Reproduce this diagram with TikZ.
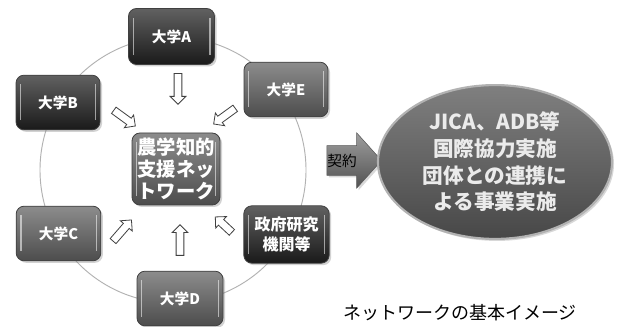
\documentclass[tikz,border=0pt]{standalone}
\usepackage{fontspec}
\setmainfont{Noto Sans CJK JP}
\usetikzlibrary{shapes.arrows,shapes.geometric,shadows}
\tikzset{
  box/.style={rounded corners=6pt, draw=black!75, line width=0.6pt, text=white,
    align=center, inner sep=1pt,
    font=\bfseries\fontsize{11}{14}\selectfont,
    drop shadow={opacity=0.35, shadow xshift=1.5pt, shadow yshift=-1.5pt},
    path picture={
      \draw[white, opacity=0.55, line width=1pt]
        ([xshift=3.5pt,yshift=-7pt]path picture bounding box.north west) --
        ([xshift=3.5pt,yshift=7pt]path picture bounding box.south west);
      \draw[white, opacity=0.55, line width=1pt]
        ([xshift=-3.5pt,yshift=-7pt]path picture bounding box.north east) --
        ([xshift=-3.5pt,yshift=7pt]path picture bounding box.south east);
    }},
  darkbox/.style={box, top color=black!62, bottom color=black!90},
  midbox/.style={box, top color=black!45, bottom color=black!70},
  hollow/.style={single arrow, draw=black!75, fill=white, line width=0.6pt,
    inner xsep=0pt, inner ysep=2.6pt, single arrow head extend=3pt,
    single arrow tip angle=90},
}
\begin{document}
\begin{tikzpicture}[x=0.75pt, y=-0.75pt]
\useasboundingbox[fill=white] (0,0) rectangle (620,327);

% ring
\node[circle, draw=black!30, line width=0.7pt, minimum size=199.5pt, inner sep=0pt] (ring) at (173,170) {};

% boxes
\node[darkbox, minimum width=64.5pt, minimum height=42pt] (A) at (171.5,36.5) {大学A};
\node[darkbox, minimum width=63pt, minimum height=41pt] (B) at (58,102.5) {大学B};
\node[midbox, minimum width=63pt, minimum height=41pt] (E) at (286,89.5) {大学E};
\node[midbox, minimum width=63.5pt, minimum height=41pt] (C) at (58.5,233.5) {大学C};
\node[midbox, minimum width=64.5pt, minimum height=41pt] (D) at (180,298.5) {大学D};
\node[darkbox, minimum width=64pt, minimum height=43pt, font=\bfseries\fontsize{12}{15}\selectfont] (G) at (286.5,234.5) {政府研究\\機関等};
\node[midbox, minimum width=66pt, minimum height=54pt, font=\bfseries\fontsize{14.5}{16.5}\selectfont] (N) at (176,169) {農学知的\\支援ネッ\\トワーク};

% hollow arrows
\node[hollow, minimum height=23pt, rotate=-90] (aA) at (178,87) {};
\node[hollow, minimum height=20pt, rotate=-36] (aB) at (123,117) {};
\node[hollow, minimum height=20pt, rotate=-144] (aE) at (226,115) {};
\node[hollow, minimum height=21pt, rotate=49] (aC) at (121,232) {};
\node[hollow, minimum height=23pt, rotate=90] (aD) at (180,242) {};
\node[hollow, minimum height=17pt, rotate=137] (aG) at (225,226) {};

% contract arrow
\node[single arrow, draw=black!65, top color=black!38, bottom color=black!68,
  minimum height=41pt, inner xsep=0pt, inner ysep=11pt,
  single arrow head extend=9.5pt, single arrow tip angle=96,
  drop shadow={opacity=0.3, shadow xshift=1.5pt, shadow yshift=-1.5pt}] (K) at (347.5,160.5) {};
\node[font=\fontsize{11}{13}\selectfont, text=black] (Kt) at (342,161) {契約};

% ellipse
\node[ellipse, draw=black!30, line width=1.6pt, top color=black!50, bottom color=black!72,
  minimum width=175.5pt, minimum height=98pt, text=black!8, align=center,
  font=\bfseries\fontsize{15.5}{20}\selectfont,
  drop shadow={opacity=0.3, shadow xshift=1.5pt, shadow yshift=-1.5pt}] (J) at (495,162)
  {JICA、ADB等\\国際協力実施\\団体との連携に\\よる事業実施};

% caption
\node[font=\fontsize{13.5}{16}\selectfont, text=black] (cap) at (460,313) {ネットワークの基本イメージ};
\end{tikzpicture}
\end{document}
